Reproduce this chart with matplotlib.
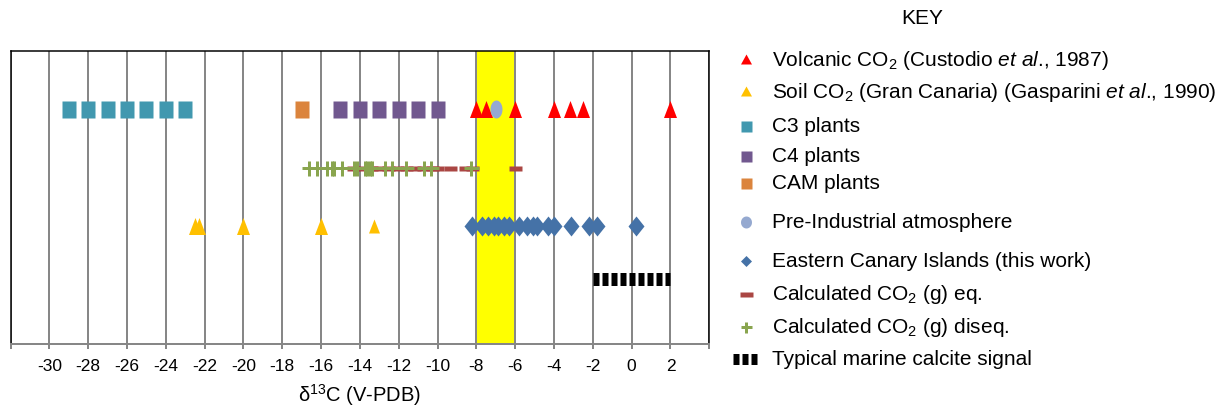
import numpy as np
import matplotlib
matplotlib.use('Agg')
import matplotlib.pyplot as plt
from matplotlib.ticker import FixedLocator, FixedFormatter

plt.rcParams['font.family'] = ['Liberation Sans', 'DejaVu Sans']
plt.rcParams['mathtext.fontset'] = 'custom'
plt.rcParams['mathtext.rm'] = 'Liberation Sans'
plt.rcParams['mathtext.it'] = 'Liberation Sans:italic'

# datos (delta 13C, V-PDB)
c3_plants = [-29, -28, -27, -26, -25, -24, -23]
cam_plants = [-17]
c4_plants = [-15, -14, -13, -12, -11, -10]
volcanic = [-8, -7.5, -6, -4, -3.2, -2.5, 2]
pre_industrial = [-7]
co2_eq = [-14.35, -13.9, -13.45, -13.0, -12.55, -12.1, -11.65, -11.2, -10.75, -10.3, -10.05,
          -9.35, -8.6, -8.25, -6.0]
co2_diseq = [-16.6, -16.2, -15.7, -15.45, -15.35, -14.9, -14.3, -14.15, -13.75, -13.65,
             -13.5, -13.4, -12.7, -12.35, -11.6, -10.7, -10.35, -8.3]
soil_co2 = [-22.5, -22.3, -20, -16]
soil_co2_small = [-13.25]
canary = [-8.2, -7.7, -7.4, -7.1, -6.9, -6.6, -6.3, -5.8, -5.4, -5.1, -4.9, -4.3, -4.0,
          -3.1, -2.2, -1.8, 0.2]
marine_calcite = [-2, 2]
fila = {'top': 4, 'co2': 3, 'mid': 2, 'marine': 1.1}
banda = [-8, -6]

tick_vals = list(range(-32, 5, 2))
tick_labels = ['' if v in (-32, 4) else str(v) for v in tick_vals]

leyenda = ['Volcanic CO$_2$ (Custodio $\\mathit{et\\ al}$., 1987)',
           'Soil CO$_2$ (Gran Canaria) (Gasparini $\\mathit{et\\ al}$., 1990)',
           'C3 plants', 'C4 plants', 'CAM plants', 'Pre-Industrial atmosphere',
           'Eastern Canary Islands (this work)', 'Calculated CO$_2$ (g) eq.',
           'Calculated CO$_2$ (g) diseq.', 'Typical marine calcite signal']

W, H = 1227, 410
P = 0.72  # px -> pt


def rect(w, h):
    return [(-w/2, -h/2), (w/2, -h/2), (w/2, h/2), (-w/2, h/2), (-w/2, -h/2)]


def tri(w, h):
    return [(-w/2, -h/2), (w/2, -h/2), (0, h/2), (-w/2, -h/2)]


def diam(w, h):
    return [(0, h/2), (w/2, 0), (0, -h/2), (-w/2, 0), (0, h/2)]


def elip(w, h):
    t = np.linspace(0, 2*np.pi, 41)
    return list(zip(w/2*np.cos(t), h/2*np.sin(t)))


def sz(w, h):
    return max(w, h)*P


fig = plt.figure(figsize=(W/100, H/100), dpi=100)
ax = fig.add_axes([10.5/W, 1-344.5/H, 698.8/W, 293/H])

ax.axvspan(banda[0], banda[1], color='#FFFF00', zorder=0.3, lw=0)

def puntos(xs, y, m, w, h, c, z=3):
    ax.plot(xs, [y]*len(xs), ls='none', marker=m(w, h), ms=sz(w, h),
            mfc=c, mec='none', zorder=z)

puntos(c3_plants, fila['top'], rect, 14, 17, '#4198AF')
puntos(cam_plants, fila['top'], rect, 14, 17, '#DB843D')
puntos(c4_plants, fila['top'], rect, 14, 17, '#71588F')
puntos(volcanic, fila['top'], tri, 13, 17, '#FF0000')
puntos(pre_industrial, fila['top'], elip, 12, 18, '#95A9D0', 4)
puntos(soil_co2, fila['mid'], tri, 13, 17, '#FFC000')
puntos(soil_co2_small, fila['mid'], tri, 11, 14, '#FFC000')
puntos(canary, fila['mid'], diam, 16, 20, '#4572A7')
puntos(co2_eq, fila['co2'], rect, 13, 5, '#AA4643')
ax.plot(co2_diseq, [fila['co2']]*len(co2_diseq), ls='none', marker='+', ms=15*P,
        mew=3*P, color='#89A54E', zorder=4)
ax.plot(marine_calcite, [fila['marine']]*2, color='black', lw=13*P,
        dashes=(6/13, 3/13), dash_capstyle='butt', zorder=3)

ax.set_xlim(-32, 4)
ax.set_ylim(0, 5)
ax.xaxis.set_major_locator(FixedLocator(tick_vals))
ax.xaxis.set_major_formatter(FixedFormatter(tick_labels))
ax.set_yticks([])
ax.grid(axis='x', color='#878787', lw=2*P)
ax.set_axisbelow(True)
ax.tick_params(axis='x', direction='out', length=5*P, width=2*P, color='#878787',
               labelsize=12.5, pad=7)
for s in ['left', 'right', 'top']:
    ax.spines[s].set_linewidth(1.5*P)
    ax.spines[s].set_color('black')
ax.spines['bottom'].set_color('#878787')
ax.spines['bottom'].set_linewidth(2*P)
ax.set_xlabel(r'$\mathregular{\delta^{13}}$C (V-PDB)', fontsize=14.5, labelpad=6)

# leyenda manual (coordenadas en pixeles)
lx = fig.add_axes([0, 0, 1, 1])
lx.set_xlim(0, W)
lx.set_ylim(H, 0)
lx.axis('off')
lx.text(922, 18, 'KEY', fontsize=15, ha='center', va='center')
ly = [60, 92, 127, 157, 184, 223, 262, 295, 328, 360]
estilos = [(tri(11, 10), sz(11, 10), '#FF0000'), (tri(11, 10), sz(11, 10), '#FFC000'),
           (rect(11, 11), sz(11, 11), '#4198AF'), (rect(11, 11), sz(11, 11), '#71588F'),
           (rect(11, 11), sz(11, 11), '#DB843D'), (elip(11, 12), sz(11, 12), '#95A9D0'),
           (diam(11, 11), sz(11, 11), '#4572A7'), (rect(13, 5), sz(13, 5), '#AA4643')]
for k, (m, ms, c) in enumerate(estilos):
    lx.plot([746], [ly[k]], ls='none', marker=m, ms=ms, mfc=c, mec='none')
lx.plot([746], [ly[8]], ls='none', marker='+', ms=11*P, mew=3*P, color='#89A54E')
lx.plot([733, 758], [ly[9], ly[9]], color='black', lw=11*P, dashes=(6/11, 3/11),
        dash_capstyle='butt')
for k, txt in enumerate(leyenda):
    lx.text(772, ly[k], txt, fontsize=15, ha='left', va='center')

fig.savefig('out.png', dpi=100)
